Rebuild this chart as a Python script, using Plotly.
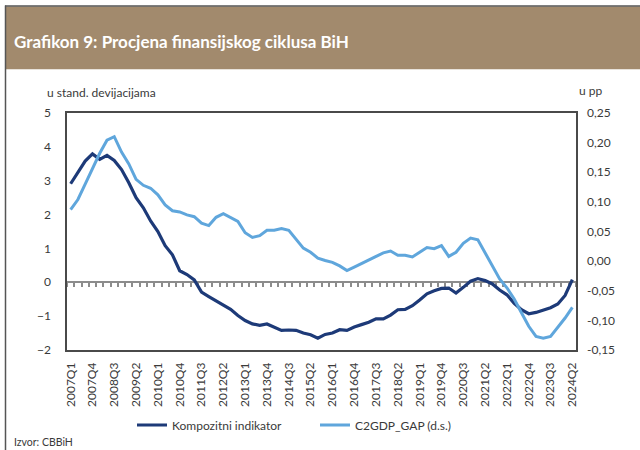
import plotly.graph_objects as go

# ---- data -------------------------------------------------------------
years = list(range(2007, 2025))
quarters = [f"{y}Q{q}" for y in years for q in (1, 2, 3, 4)][:70]  # 2007Q1 .. 2024Q2

kompozitni = [2.91, 3.24, 3.58, 3.79, 3.63, 3.75, 3.60, 3.33, 2.94, 2.50,
              2.20, 1.81, 1.50, 1.08, 0.81, 0.34, 0.23, 0.07, -0.29, -0.42,
              -0.54, -0.67, -0.80, -0.98, -1.13, -1.23, -1.27, -1.23, -1.32, -1.42,
              -1.41, -1.42, -1.50, -1.55, -1.65, -1.54, -1.50, -1.40, -1.42, -1.32,
              -1.25, -1.18, -1.08, -1.08, -0.97, -0.81, -0.80, -0.69, -0.52, -0.34,
              -0.25, -0.18, -0.17, -0.32, -0.15, 0.03, 0.11, 0.05, -0.05, -0.23,
              -0.37, -0.62, -0.81, -0.93, -0.89, -0.83, -0.75, -0.64, -0.39, 0.08]

c2gdp_gap = [0.087, 0.104, 0.130, 0.156, 0.182, 0.204, 0.210, 0.184, 0.164, 0.138,
             0.128, 0.123, 0.112, 0.095, 0.085, 0.083, 0.078, 0.075, 0.064, 0.060,
             0.074, 0.080, 0.074, 0.067, 0.048, 0.040, 0.043, 0.052, 0.052, 0.055,
             0.052, 0.037, 0.022, 0.015, 0.005, 0.001, -0.002, -0.008, -0.016, -0.010,
             -0.004, 0.002, 0.007, 0.014, 0.017, 0.010, 0.010, 0.007, 0.015, 0.023,
             0.021, 0.026, 0.008, 0.015, 0.030, 0.039, 0.036, 0.014, -0.008, -0.030,
             -0.045, -0.064, -0.087, -0.110, -0.127, -0.130, -0.127, -0.112, -0.096, -0.078]

x_tick_labels = quarters[::3]
left_ticks = [5, 4, 3, 2, 1, 0, -1, -2]
right_ticks = [0.25, 0.20, 0.15, 0.10, 0.05, 0.00, -0.05, -0.10, -0.15]
right_tick_text = ["0,25", "0,20", "0,15", "0,10", "0,05", "0,00", "-0,05", "-0,10", "-0,15"]

title = "Grafikon 9: Procjena finansijskog ciklusa BiH"
left_title = "u stand. devijacijama"
right_title = "u pp"
name_1 = "Kompozitni indikator"
name_2 = "C2GDP_GAP (d.s.)"
source = "Izvor: CBBiH"

# ---- layout geometry ---------------------------------------------------
W, H = 640, 450
ML, MR, MT, MB = 67, 64, 113, 99
PW, PH = W - ML - MR, H - MT - MB


def px(x):
    return (x - ML) / PW


def py(y):
    return (H - MB - y) / PH


FONT = "Lato"
TXT = "#3a3a3a"
DARK = "#1d3a78"
LIGHT = "#5fa6dc"
FRAME = "#4a4a4a"
ZERO = "#8c8c8c"

y_range = [-2, 5]
zero_pos = (0 - y_range[0]) / (y_range[1] - y_range[0])

fig = go.Figure()
fig.add_trace(go.Scatter(x=quarters, y=kompozitni, name=name_1, mode="lines",
                         line=dict(color=DARK, width=3.2), xaxis="x", yaxis="y"))
fig.add_trace(go.Scatter(x=quarters, y=c2gdp_gap, name=name_2, mode="lines",
                         line=dict(color=LIGHT, width=3), xaxis="x2", yaxis="y2"))

fig.update_layout(
    width=W, height=H,
    margin=dict(l=ML, r=MR, t=MT, b=MB),
    paper_bgcolor="white", plot_bgcolor="white",
    font=dict(family=FONT, size=12, color=TXT),
    showlegend=True,
    legend=dict(orientation="h", x=px(132), xanchor="left", y=py(425), yanchor="middle",
                font=dict(size=12, color=TXT), itemwidth=30,
                entrywidth=138, entrywidthmode="pixels",
                bgcolor="rgba(0,0,0,0)", tracegroupgap=0),
    xaxis=dict(type="category", categoryorder="array", categoryarray=quarters,
               range=[-0.5, len(quarters) - 0.5],
               tickmode="array", tickvals=x_tick_labels, ticktext=x_tick_labels,
               tickangle=-90, tickfont=dict(size=12, color=TXT), ticks="",
               ticklabelstandoff=6,
               showline=True, mirror=True, linecolor=FRAME, linewidth=1.5,
               showgrid=False, zeroline=False),
    xaxis2=dict(type="category", categoryorder="array", categoryarray=quarters,
                matches="x", overlaying="x", anchor="free", position=zero_pos,
                side="bottom", layer="below traces",
                tickmode="array", tickvals=quarters, tickson="boundaries",
                ticks="outside", ticklen=4, tickwidth=1.5, tickcolor=ZERO,
                showticklabels=False, showline=True, linecolor=ZERO, linewidth=2,
                showgrid=False, zeroline=False),
    yaxis=dict(range=y_range, tickmode="array", tickvals=left_ticks,
               tickfont=dict(size=12, color=TXT), ticks="", ticklabelstandoff=12,
               showline=True, mirror=True, linecolor=FRAME, linewidth=1.5,
               showgrid=False, zeroline=False),
    yaxis2=dict(range=[-0.15, 0.25], overlaying="y", side="right", anchor="x2",
                tickmode="array", tickvals=right_ticks, ticktext=right_tick_text,
                tickfont=dict(size=12, color=TXT), ticks="", ticklabelstandoff=10,
                showline=False, showgrid=False, zeroline=False),
)

# header band and outer frame lines
fig.add_shape(type="rect", xref="paper", yref="paper",
              x0=px(6), x1=px(W + 5), y0=py(69), y1=py(6),
              fillcolor="#a28a6d", line=dict(width=0), layer="below")
fig.add_shape(type="line", xref="paper", yref="paper",
              x0=px(5.5), x1=px(5.5), y0=py(5), y1=py(H + 5),
              line=dict(color="#555555", width=1.5))
fig.add_shape(type="line", xref="paper", yref="paper",
              x0=px(5), x1=px(W + 5), y0=py(5.5), y1=py(5.5),
              line=dict(color="#555555", width=1.5))

fig.add_annotation(text=title, xref="paper", yref="paper", x=px(12), y=py(41),
                   xanchor="left", yanchor="middle", showarrow=False,
                   font=dict(family=FONT, size=17, color="white", weight="bold"))
fig.add_annotation(text=left_title, xref="paper", yref="paper", x=px(45), y=py(92),
                   xanchor="left", yanchor="middle", showarrow=False,
                   font=dict(size=12, color=TXT))
fig.add_annotation(text=right_title, xref="paper", yref="paper", x=px(577), y=py(90),
                   xanchor="left", yanchor="middle", showarrow=False,
                   font=dict(size=12, color=TXT))
fig.add_annotation(text=source, xref="paper", yref="paper", x=px(12), y=py(443),
                   xanchor="left", yanchor="middle", showarrow=False,
                   font=dict(size=10.5, color=TXT))

fig.write_html("out.html", config={"displayModeBar": False},
               post_script="document.body.style.margin='0';document.body.style.padding='0';")
